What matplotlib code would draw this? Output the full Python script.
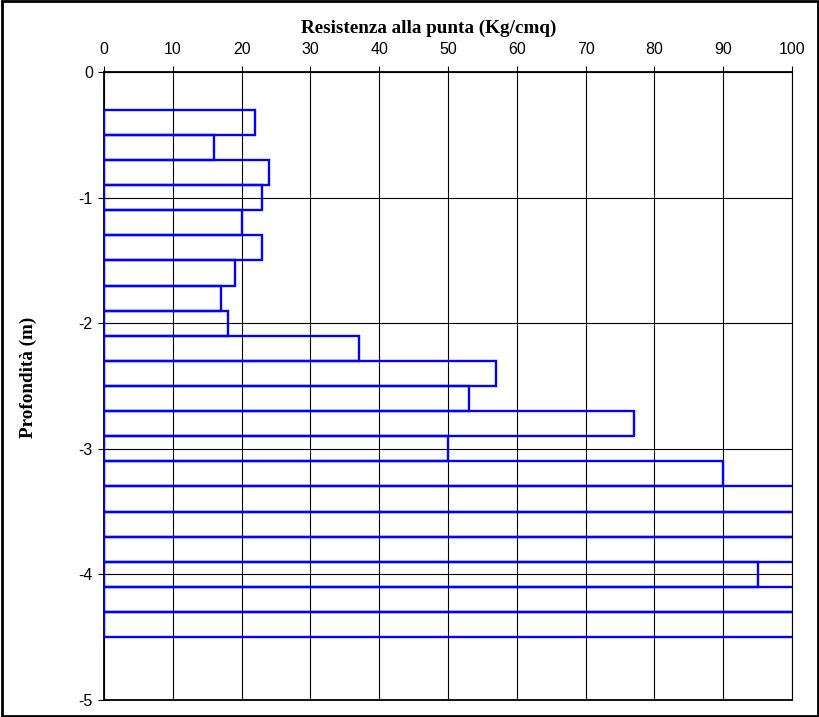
"""
Penetrometric test: tip resistance against depth.
"""

import matplotlib.pyplot as plt
import numpy as np
from matplotlib.patches import Rectangle

# Data (bars beyond 100 are off the scale; drawn clipped at the axis)
depth_top = [-0.3, -0.5, -0.7, -0.9, -1.1, -1.3, -1.5, -1.7, -1.9, -2.1, -2.3,
             -2.5, -2.7, -2.9, -3.1, -3.3, -3.5, -3.7, -3.9, -4.1, -4.3]
resistance = [22, 16, 24, 23, 20, 23, 19, 17, 18, 37, 57,
              53, 77, 50, 90, 110, 110, 110, 95, 110, 110]
x_ticks = list(range(0, 101, 10))
y_ticks = [0, -1, -2, -3, -4, -5]

fg = plt.figure(figsize=(8.2, 7.17), dpi=100)
ax = fg.add_axes([0.1268, 0.0237, 0.8391, 0.8759])

ax.barh(
    np.array(depth_top) - 0.1,
    resistance,
    height=0.2,
    left=0,
    fill=False,
    edgecolor="#0000FF",
    linewidth=1.7,
    zorder=3,
)

ax.set_xlim(0, 100)
ax.set_ylim(-5, 0)
ax.set_xticks(x_ticks)
ax.set_yticks(y_ticks)
ax.set_yticklabels([str(v) for v in y_ticks])
ax.xaxis.tick_top()
ax.xaxis.set_label_position("top")
ax.grid(True, color="black", linewidth=0.8, zorder=1)
ax.set_axisbelow(True)

for side in ["left", "top", "bottom"]:
    ax.spines[side].set_linewidth(1.3)
ax.spines["right"].set_linewidth(0.8)

ax.tick_params(axis="x", direction="out", length=4.5, width=0.8,
               labelsize=11.5, pad=6.5)
ax.tick_params(axis="y", direction="inout", length=8, width=0.8,
               labelsize=11.5, pad=4)
for lbl in ax.get_xticklabels() + ax.get_yticklabels():
    lbl.set_fontfamily("Liberation Sans")

ax.set_xlabel("Resistenza alla punta (Kg/cmq)", fontsize=13.8,
              fontweight="bold", family="Liberation Serif")
ax.xaxis.set_label_coords(0.4717, 1.070)
ax.xaxis.label.set_verticalalignment("center")
ax.set_ylabel("Profondità (m)", fontsize=13.8, fontweight="bold",
              family="Liberation Serif")
ax.yaxis.set_label_coords(-0.110, 0.513)
ax.yaxis.label.set_verticalalignment("center")

fg.patches.append(Rectangle((0.002, 0.002), 0.996, 0.996, transform=fg.transFigure,
                            fill=False, edgecolor="black", linewidth=2))

fg.savefig("out.png", dpi=100)
